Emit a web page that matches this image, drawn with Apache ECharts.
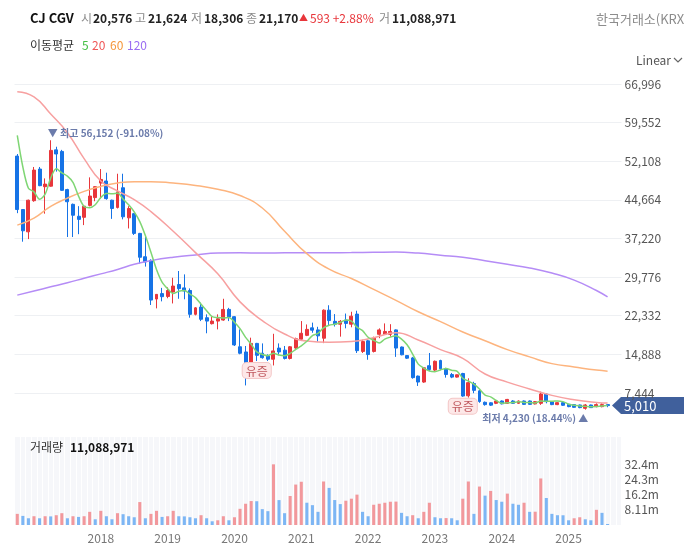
<!DOCTYPE html>
<html>
<head>
<meta charset="utf-8">
<script src="https://cdn.jsdelivr.net/npm/echarts@6/dist/echarts.min.js"></script>
<style>
  html, body { margin: 0; padding: 0; background: #fff; }
  #chart { width: 684px; height: 548px; }
</style>
</head>
<body>
<div id="chart"></div>
<script>
// monthly candles, 2016-10 .. 2025-08 (+2 empty months of right padding)
const months = [];
for (let k = 0; k < 109; k++) {
  const m = 9 + k;
  months.push((2016 + Math.floor(m / 12)) + '-' + String(m % 12 + 1).padStart(2, '0'));
}

const opens = [53100, 42800, 38500, 44500, 50600, 47200, 47300, 54300, 54000, 46650,
  43800, 41500, 41300, 43600, 45100, 47900, 48300, 44600, 43200, 47000,
  41200, 42000, 38200, 33700, 33000, 25550, 26600, 26050, 26900, 28350,
  27700, 27200, 22600, 24000, 21950, 20800, 21300, 21500, 23550, 22150,
  16350, 15350, 13400, 17000, 15100, 14550, 13950, 16100, 15700, 14100,
  16100, 17800, 18550, 20000, 19600, 18000, 23400, 21250, 20700, 21500,
  20700, 22650, 15450, 17500, 15450, 18750, 18750, 18750, 19600, 16300,
  14650, 14200, 10700, 9550, 12700, 11850, 13700, 12100, 11000, 10500,
  11200, 6900, 9250, 7850, 5650, 5550, 5450, 5900, 5450, 5900,
  5450, 5900, 5900, 5330, 5450, 7250, 5700, 5200, 5580, 5260,
  5200, 5130, 4490, 5130, 4810, 4810, 5200];
const closes = [42800, 38700, 44600, 50400, 47400, 47700, 54200, 53500, 46500, 44300,
  41700, 40900, 43450, 45400, 47200, 48600, 44900, 43000, 46200, 41400,
  43000, 38200, 33600, 32700, 25350, 26450, 26000, 27200, 28050, 27550,
  27100, 22600, 23850, 21650, 21300, 21300, 21750, 23550, 22100, 16700,
  15100, 13300, 17000, 14700, 14250, 13950, 15550, 15350, 14100, 16350,
  17900, 18950, 19700, 19550, 18450, 23400, 21400, 20700, 21250, 20850,
  22250, 15600, 17350, 14850, 18000, 19600, 19300, 19300, 16100, 14800,
  14150, 10400, 9550, 12300, 11950, 13550, 12100, 11000, 10500, 10950,
  6850, 9430, 7950, 5800, 5200, 5100, 5900, 5350, 6200, 5450,
  5900, 5250, 5250, 5770, 7250, 5770, 5200, 5580, 5070, 4810,
  4680, 4620, 5130, 4620, 5200, 5200, 5010];
const lows = [42100, 36600, 37100, 44300, 47300, 42000, 47200, 50100, 46400, 37500,
  37500, 38050, 39800, 43400, 44400, 44900, 44700, 41000, 43000, 40900,
  39150, 37900, 32400, 31800, 24400, 23750, 25100, 25700, 24700, 25600,
  25500, 21950, 22400, 21300, 18950, 20650, 19700, 21370, 21300, 16500,
  14900, 8900, 13300, 13600, 14050, 13600, 12750, 14700, 13900, 13900,
  15850, 17450, 18400, 19050, 17350, 17050, 20500, 20250, 18300, 19900,
  20100, 15150, 15150, 13850, 15250, 18000, 18650, 18300, 14400, 14700,
  14000, 10200, 8800, 9400, 11650, 11650, 11850, 10400, 10300, 10400,
  6700, 6550, 7400, 5550, 5000, 4950, 5300, 5250, 5350, 5350,
  5350, 5150, 5150, 5250, 5150, 5450, 5100, 5100, 4950, 4700,
  4600, 4500, 4230, 4550, 4680, 4680, 4700];
const highs = [53500, 42900, 44700, 51000, 51000, 48800, 56152, 54900, 54300, 46800,
  43950, 43450, 43650, 49000, 47300, 50600, 49900, 44700, 49700, 49700,
  43450, 42150, 38300, 37900, 33200, 26500, 27700, 27800, 29650, 30950,
  30300, 27600, 24000, 24850, 22600, 22150, 22600, 25600, 23850, 22250,
  19700, 16500, 18100, 17100, 17000, 14900, 18850, 17000, 16500, 16500,
  18100, 21300, 20650, 21000, 20200, 23550, 24350, 22650, 21500, 22750,
  23100, 23300, 17700, 17700, 18300, 19900, 20850, 20700, 19700, 16400,
  14750, 14400, 10800, 12450, 15150, 13700, 13850, 12300, 11300, 11000,
  11330, 10280, 9600, 8050, 5800, 5650, 6000, 6000, 6300, 6050,
  6000, 6000, 6000, 5900, 7700, 7400, 5800, 5650, 5650, 5350,
  5260, 5200, 5300, 5200, 5450, 5450, 5250];

// volume in millions of shares
const volumes = [5.95, 4.86, 3.60, 4.68, 3.60, 4.68, 4.60, 5.23, 6.31, 3.60,
  4.68, 4.32, 4.68, 7.03, 3.06, 7.57, 4.68, 3.06, 6.31, 5.77,
  4.68, 4.14, 12.25, 3.60, 5.95, 7.57, 4.32, 4.68, 7.57, 4.68,
  4.60, 4.14, 3.60, 5.23, 3.60, 1.98, 2.52, 4.68, 2.52, 4.14,
  8.65, 11.35, 12.79, 12.70, 8.47, 7.39, 32.4, 13.3, 6.31, 15.5,
  21.6, 23.1, 11.9, 10.6, 7.03, 23.24, 19.82, 13.33, 11.17, 12.97,
  14.05, 16.22, 7.03, 4.68, 10.81, 11.35, 11.89, 12.43, 12.5, 6.49,
  4.68, 5.23, 3.60, 7.03, 11.89, 4.14, 3.60, 3.70, 3.60, 2.52,
  14.05, 23.24, 5.95, 20.54, 15.68, 18.2, 13.33, 12.43, 16.76, 11.35,
  10.81, 11.89, 7.03, 7.1, 24.86, 14.41, 5.95, 5.23, 5.2, 2.52,
  3.60, 4.14, 3.06, 2.52, 8.11, 6.49, 0.54];

// moving averages at these candle indexes
const maIdx = [0, 3, 6, 9, 12, 15, 18, 21, 24, 28, 32, 36, 40, 44, 48, 52, 56, 60, 64, 68, 72, 76, 80, 84, 88, 92, 96, 100, 104, 106];
const ma20 = [65500, 64500, 61200, 57600, 52600, 48300, 46400, 44700, 42400, 38600,
  34500, 30400, 25000, 21400, 18800, 17450, 17200, 17350, 18100, 19050,
  17650, 15800, 14100, 11100, 9530, 8220, 6980, 6150, 5630, 5520];
const ma60 = [39800, 41150, 43400, 45000, 46300, 47250, 47900, 48170, 48170, 47900,
  47450, 46700, 45500, 43100, 38600, 34300, 31300, 29500, 27400, 25300,
  23100, 21200, 19200, 17500, 15800, 14400, 13100, 12460, 11850, 11650];
const ma120 = [26300, 27100, 27900, 28700, 29550, 30400, 31250, 32250, 32950, 33600,
  34050, 34400, 34450, 34400, 34450, 34480, 34480, 34500, 34550, 34600,
  34400, 34000, 33600, 32950, 32250, 31530, 30550, 29200, 27200, 25950];
// first four 5-month averages (earlier closes are off screen)
const ma5Head = [57100, 51000, 46900, 46200];
const rightsIssueIdx = [43, 80];

const UP = '#e8363b', DN = '#1673e6';
const FONT = "'Noto Sans CJK KR', 'Noto Sans', sans-serif";
const N = closes.length;

const candles = opens.map((o, i) => [o, closes[i], lows[i], highs[i]]);
const ma5 = closes.map((c, i) => i < 4 ? ma5Head[i]
  : Math.round((closes[i - 4] + closes[i - 3] + closes[i - 2] + closes[i - 1] + c) / 5));
function place(vals) {
  const a = new Array(N).fill(null);
  maIdx.forEach((k, j) => { a[k] = vals[j]; });
  return a;
}
const volData = volumes.map((v, i) => ({
  value: v * 1e6,
  itemStyle: { color: (i === 0 || v > volumes[i - 1]) ? '#f2989c' : '#7db6f4' }
}));

const hiIdx = highs.indexOf(Math.max(...highs));
const loIdx = lows.indexOf(Math.min(...lows));
const last = closes[N - 1];
const fmt = v => v.toLocaleString('en-US');
const pct = (a, b) => ((a - b) / b * 100).toFixed(2) + '%';

const chart = echarts.init(document.getElementById('chart'));

const extLabel = { color: '#6b7bab', fontSize: 10, fontWeight: 'bold', fontFamily: FONT };
const issueLabel = {
  show: true, position: 'bottom', distance: 2, formatter: '유증',
  color: '#c0595f', fontSize: 12, fontFamily: FONT,
  backgroundColor: '#fde8e8', borderColor: '#f3c7c7', borderWidth: 1,
  borderRadius: 4, padding: [2, 3, 1, 3]
};

chart.setOption({
  animation: false,
  textStyle: { fontFamily: FONT },
  grid: [
    { left: 14.5, width: 607, top: 68.4, height: 363.2 },
    { left: 14.5, width: 607, top: 437, height: 88, show: true, backgroundColor: '#f6f7fa', borderWidth: 0 }
  ],
  xAxis: [
    { type: 'category', data: months, gridIndex: 0, axisLine: { show: false }, axisTick: { show: false },
      axisLabel: { show: false }, splitLine: { show: false } },
    { type: 'category', data: months, gridIndex: 1, axisLine: { show: false }, axisTick: { show: false },
      axisLabel: { interval: (i, v) => v.endsWith('-01') && v >= '2018', formatter: v => v.slice(0, 4),
        color: '#777', fontSize: 12, margin: 7 },
      splitLine: { show: true, interval: 0, lineStyle: { color: '#ffffff', width: 1 } } }
  ],
  yAxis: [
    { type: 'value', gridIndex: 0, position: 'right', min: 0, max: 70000, interval: 7444,
      axisLine: { show: false }, axisTick: { show: false },
      axisLabel: { color: '#555', fontSize: 12, margin: 3, showMinLabel: false, showMaxLabel: false,
        formatter: v => (v % 7444 === 0 && v > 0) ? fmt(v) : '' },
      splitLine: { showMinLine: false, showMaxLine: false, lineStyle: { color: '#eef0f3' } } },
    { type: 'value', gridIndex: 1, position: 'right', min: 0, max: 47e6, interval: 8.11e6,
      axisLine: { show: false }, axisTick: { show: false }, splitLine: { show: false },
      axisLabel: { color: '#555', fontSize: 12, margin: 3,
        formatter: v => (v === 0 || v > 35e6) ? '' : (v / 1e6).toPrecision(3) + 'm' } }
  ],
  series: [
    { type: 'candlestick', xAxisIndex: 0, yAxisIndex: 0, data: candles, barWidth: '62%',
      itemStyle: { color: UP, color0: DN, borderColor: UP, borderColor0: DN, borderWidth: 1 },
      markPoint: {
        symbol: 'circle', symbolSize: 0, itemStyle: { color: 'transparent' },
        data: [
          { coord: [months[hiIdx], highs[hiIdx]],
            label: Object.assign({ show: true, position: 'right', offset: [-8, -7],
              formatter: '▼ 최고 ' + fmt(highs[hiIdx]) + ' (' + pct(last, highs[hiIdx]) + ')' }, extLabel) },
          { coord: [months[loIdx], lows[loIdx]],
            label: Object.assign({ show: true, position: 'left', offset: [8, 9],
              formatter: '최저 ' + fmt(lows[loIdx]) + ' (' + pct(last, lows[loIdx]) + ') ▲' }, extLabel) },
          ...rightsIssueIdx.map(k => ({ coord: [months[k], lows[k]], label: issueLabel }))
        ]
      } },
    { type: 'line', xAxisIndex: 0, yAxisIndex: 0, data: place(ma120), connectNulls: true, smooth: true,
      symbol: 'none', lineStyle: { color: '#b58cf6', width: 1.5 } },
    { type: 'line', xAxisIndex: 0, yAxisIndex: 0, data: place(ma60), connectNulls: true, smooth: true,
      symbol: 'none', lineStyle: { color: '#fdb47e', width: 1.5 } },
    { type: 'line', xAxisIndex: 0, yAxisIndex: 0, data: place(ma20), connectNulls: true, smooth: true,
      symbol: 'none', lineStyle: { color: '#f7a0a0', width: 1.5 } },
    { type: 'line', xAxisIndex: 0, yAxisIndex: 0, data: ma5, smooth: 0.3,
      symbol: 'none', lineStyle: { color: '#7fd674', width: 1.5 } },
    { type: 'bar', xAxisIndex: 1, yAxisIndex: 1, data: volData, barWidth: '55%' }
  ]
});

// header texts, legend row and last-price tag
function txt(text, x, y, fill, size, weight) {
  return { type: 'text', x: x, y: y, silent: true,
    style: { text: text, fill: fill, font: (weight || 'normal') + ' ' + size + 'px ' + FONT, verticalAlign: 'middle' } };
}
const ty = chart.convertToPixel({ yAxisIndex: 0 }, last);
chart.setOption({
  graphic: [
    txt('CJ CGV', 30, 18, '#111', 13, 'bold'),
    txt('시', 81, 18, '#8a8a8a', 12), txt('20,576', 93, 18, '#222', 12, 'bold'),
    txt('고', 135, 18, '#8a8a8a', 12), txt('21,624', 148, 18, '#222', 12, 'bold'),
    txt('저', 191, 18, '#8a8a8a', 12), txt('18,306', 204, 18, '#222', 12, 'bold'),
    txt('종', 246, 18, '#8a8a8a', 12), txt('21,170', 259, 18, '#222', 12, 'bold'),
    txt('▲', 299, 18, UP, 9), txt('593 +2.88%', 310, 18, UP, 12),
    txt('거', 379, 18, '#8a8a8a', 12), txt('11,088,971', 392, 18, '#222', 12, 'bold'),
    txt('한국거래소(KRX)', 596, 19, '#8c8c8c', 13),
    txt('이동평균', 30, 45, '#333', 12),
    txt('5', 82, 45, '#45c045', 12), txt('20', 92, 45, '#f05656', 12),
    txt('60', 110, 45, '#f5963a', 12), txt('120', 127, 45, '#9a6cf2', 12),
    txt('Linear', 636, 60, '#555', 12),
    { type: 'polyline', silent: true, shape: { points: [[674, 58], [678, 62], [682, 58]] },
      style: { stroke: '#666', lineWidth: 1.2, fill: null } },
    txt('거래량', 30, 447, '#333', 12), txt('11,088,971', 70, 447, '#111', 12, 'bold'),
    { type: 'polygon', silent: true,
      shape: { points: [[612, ty], [621, ty - 8.5], [684, ty - 8.5], [684, ty + 8.5], [621, ty + 8.5]] },
      style: { fill: '#40609c' } },
    txt(fmt(last), 624, ty, '#fff', 13)
  ]
});
</script>
</body>
</html>
